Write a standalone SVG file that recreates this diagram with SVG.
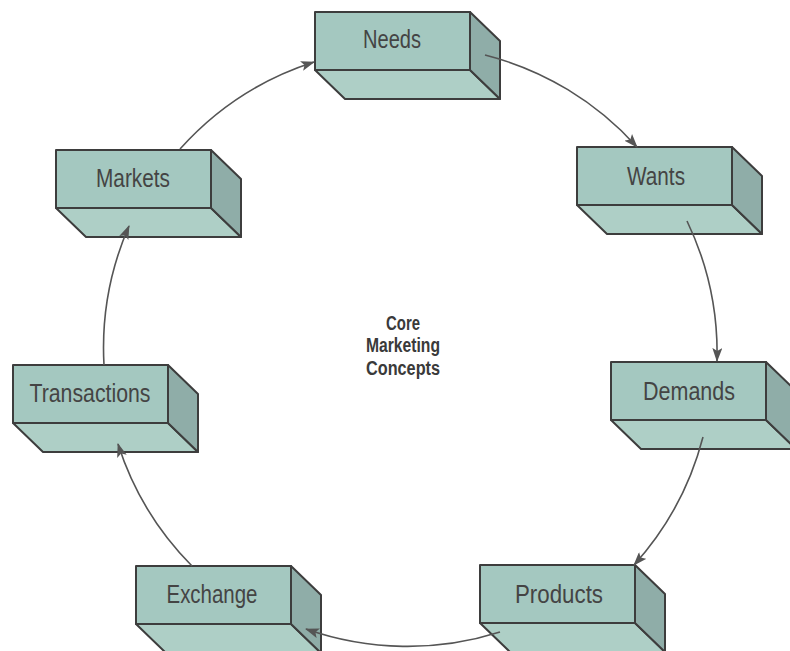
<svg xmlns="http://www.w3.org/2000/svg" xmlns:xlink="http://www.w3.org/1999/xlink" width="790" height="651" viewBox="0 0 790 651">
<style>
.front{fill:#a4c8c0;stroke:#3d3d3d;stroke-width:2;stroke-linejoin:round}
.bottom{fill:#aecfc6;stroke:#3d3d3d;stroke-width:2;stroke-linejoin:round}
.side{fill:#8fada8;stroke:#3d3d3d;stroke-width:2;stroke-linejoin:round}
.lbl{font-family:"Liberation Sans Narrow","Liberation Sans",Arial,sans-serif;font-size:25px;fill:#444;text-anchor:middle}
.title{font-family:"Liberation Sans Narrow","Liberation Sans",Arial,sans-serif;font-size:20px;font-weight:bold;fill:#3a3a3a;text-anchor:middle}
.conn{fill:none;stroke:#555;stroke-width:1.6}
</style>
<defs>
<marker id="ah" viewBox="0 0 14 10" refX="13" refY="5" markerWidth="14" markerHeight="10" markerUnits="userSpaceOnUse" orient="auto">
<path d="M0,0 L14,5 L0,10 L3,5 Z" fill="#555"/>
</marker>
<g id="box">
<polygon class="bottom" points="0,58 155,58 185,87 30,87"/>
<polygon class="side" points="155,0 185,29 185,87 155,58"/>
<rect class="front" x="0" y="0" width="155" height="58"/>
</g>
</defs>
<rect width="790" height="651" fill="#fff"/>
<g id="needs"><use xlink:href="#box" transform="translate(315,12)"/><text class="lbl" x="392" y="48" textLength="58" lengthAdjust="spacingAndGlyphs">Needs</text></g>
<g id="wants"><use xlink:href="#box" transform="translate(577,147)"/><text class="lbl" x="656" y="185" textLength="58" lengthAdjust="spacingAndGlyphs">Wants</text></g>
<g id="demands"><use xlink:href="#box" transform="translate(611,362)"/><text class="lbl" x="689" y="400" textLength="92" lengthAdjust="spacingAndGlyphs">Demands</text></g>
<g id="products"><use xlink:href="#box" transform="translate(480,565)"/><text class="lbl" x="559" y="603" textLength="88" lengthAdjust="spacingAndGlyphs">Products</text></g>
<g id="exchange"><use xlink:href="#box" transform="translate(136,566)"/><text class="lbl" x="212" y="603" textLength="91" lengthAdjust="spacingAndGlyphs">Exchange</text></g>
<g id="transactions"><use xlink:href="#box" transform="translate(13,365)"/><text class="lbl" x="90" y="402" textLength="121" lengthAdjust="spacingAndGlyphs">Transactions</text></g>
<g id="markets"><use xlink:href="#box" transform="translate(56,150)"/><text class="lbl" x="133" y="187" textLength="74" lengthAdjust="spacingAndGlyphs">Markets</text></g>
<g id="center">
<text class="title" x="403" y="330" textLength="34" lengthAdjust="spacingAndGlyphs">Core</text>
<text class="title" x="403" y="352" textLength="74" lengthAdjust="spacingAndGlyphs">Marketing</text>
<text class="title" x="403" y="375" textLength="74" lengthAdjust="spacingAndGlyphs">Concepts</text>
</g>
<g id="connectors">
<path class="conn" marker-end="url(#ah)" d="M180,149 A305,305 0 0 1 314,62"/>
<path class="conn" marker-end="url(#ah)" d="M485,55 A305,305 0 0 1 637,147"/>
<path class="conn" marker-end="url(#ah)" d="M687,221 A305,305 0 0 1 717,361"/>
<path class="conn" marker-end="url(#ah)" d="M703,437 A305,305 0 0 1 634,565"/>
<path class="conn" marker-end="url(#ah)" d="M500,632 A305,305 0 0 1 306,629"/>
<path class="conn" marker-end="url(#ah)" d="M192,566 A305,305 0 0 1 118,444"/>
<path class="conn" marker-end="url(#ah)" d="M104,365 A305,305 0 0 1 129,226"/>
</g>
</svg>
